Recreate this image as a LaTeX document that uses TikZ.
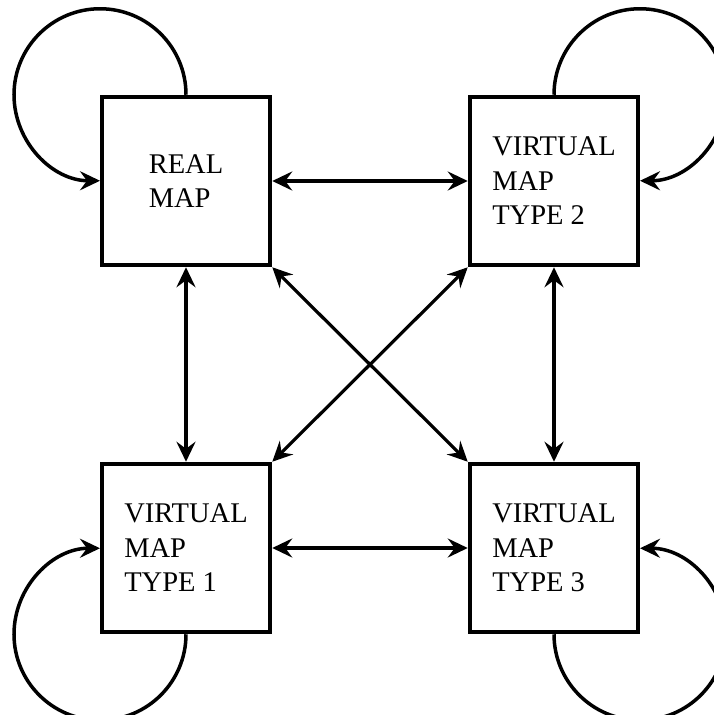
\documentclass[tikz,border=0pt]{standalone}
\usepackage{fontspec}
\setmainfont{Liberation Serif}
\usetikzlibrary{arrows.meta}
\begin{document}
\begin{tikzpicture}[x=1pt,y=1pt,
  mapbox/.style={draw, line width=4.5pt, minimum width=168pt, minimum height=168pt,
    inner sep=0pt, align=left, font=\fontsize{28.5}{34.5}\selectfont},
  link/.style={line width=3.2pt, {Stealth[length=20pt,width=19pt,inset=7pt]}-{Stealth[length=20pt,width=19pt,inset=7pt]}},
  selfloop/.style={line width=3.5pt, -{Stealth[length=20pt,width=19pt,inset=7pt]}}]
\useasboundingbox (0,0) rectangle (714,-715);
\node[mapbox] (real) at (186,-181) {REAL\\MAP};
\node[mapbox] (v2) at (554,-181) {VIRTUAL\\MAP\\TYPE 2};
\node[mapbox] (v1) at (186,-548) {VIRTUAL\\MAP\\TYPE 1};
\node[mapbox] (v3) at (554,-548) {VIRTUAL\\MAP\\TYPE 3};
\draw[link] (real.east) -- (v2.west);
\draw[link] (v1.east) -- (v3.west);
\draw[link] (real.south) -- (v1.north);
\draw[link] (v2.south) -- (v3.north);
\draw[link] (real.south east) -- (v3.north west);
\draw[link] (v2.south west) -- (v1.north east);
\draw[selfloop] (real.north) arc[start angle=0, end angle=270, radius=86];
\draw[selfloop] (v2.north) arc[start angle=180, end angle=-90, radius=86];
\draw[selfloop] (v1.south) arc[start angle=0, end angle=-270, radius=86];
\draw[selfloop] (v3.south) arc[start angle=180, end angle=450, radius=86];
\end{tikzpicture}
\end{document}
